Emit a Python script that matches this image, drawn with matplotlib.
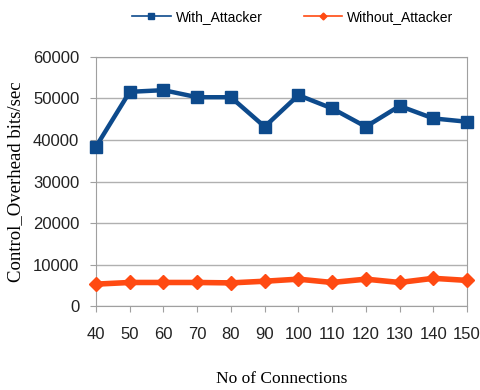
import matplotlib
matplotlib.use('Agg')
import matplotlib.pyplot as plt
from matplotlib.lines import Line2D

connections = [40, 50, 60, 70, 80, 90, 100, 110, 120, 130, 140, 150]
with_attacker = [38400, 51600, 52000, 50300, 50300, 43200, 50800, 47600, 43200, 48200, 45200, 44400]
without_attacker = [5300, 5700, 5700, 5700, 5600, 6000, 6500, 5700, 6500, 5700, 6700, 6200]

BLUE = '#0d4a8c'
ORANGE = '#ff4a12'

fig = plt.figure(figsize=(4.8, 3.9), dpi=100)
ax = fig.add_axes([0.2, 0.215, 0.773, 0.639])

ax.plot(connections, with_attacker, color=BLUE, lw=3.2, marker='s', ms=8, zorder=3, clip_on=False)
ax.plot(connections, without_attacker, color=ORANGE, lw=4, marker='D', ms=7.5, zorder=3, clip_on=False)

ax.set_xlim(40, 150)
ax.set_ylim(0, 60000)
ax.set_xticks(connections)
ax.set_yticks(range(0, 60001, 10000))
ax.yaxis.grid(True, color='#b0b0b0', lw=1)
ax.set_axisbelow(True)
for s in ax.spines.values():
    s.set_color('#a0a0a0')
ax.tick_params(axis='both', colors='#a0a0a0', labelcolor='#222222', labelsize=12,
               labelfontfamily='Liberation Sans')
ax.tick_params(axis='x', length=4, pad=11)
ax.tick_params(axis='y', length=4, pad=8)

ax.set_xlabel('No of Connections', family='Liberation Serif', fontsize=12.5, labelpad=21)
ax.set_ylabel('Control_Overhead bits/sec', family='Liberation Serif', fontsize=13.5, labelpad=6)

handles = [Line2D([], [], color=BLUE, lw=1.2, marker='s', ms=4.5),
           Line2D([], [], color=ORANGE, lw=1.2, marker='D', ms=3.5)]
fig.legend(handles, ['With_Attacker', 'Without_Attacker'], loc='center',
           bbox_to_anchor=(0.61, 0.956), ncol=2, frameon=False, handlelength=2.8,
           handletextpad=0.35, columnspacing=2.95, prop={'family': 'Liberation Sans', 'size': 10})

fig.savefig('out.png', dpi=100)
